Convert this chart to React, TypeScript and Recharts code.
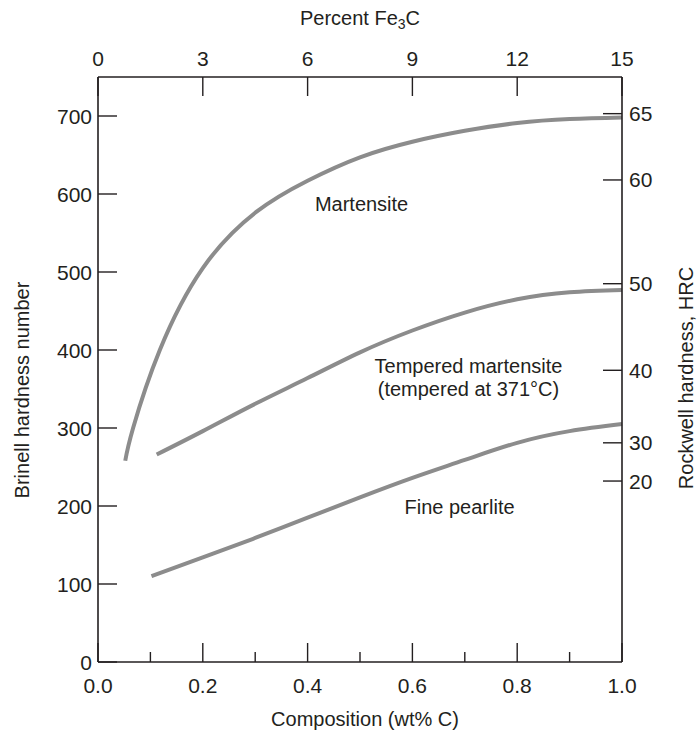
import { LineChart, Line, XAxis, YAxis, ReferenceDot } from 'recharts';

// composition (wt% C) and Brinell hardness
const martensiteC = [0.052, 0.067, 0.118, 0.2, 0.3, 0.4, 0.5, 0.6, 0.7, 0.8, 0.9, 1.0];
const martensiteHB = [258, 300, 400, 505, 576, 617, 647, 667, 681, 691, 696, 698];

const temperedC = [0.112, 0.2, 0.3, 0.4, 0.5, 0.6, 0.7, 0.8, 0.9, 1.0];
const temperedHB = [266, 296, 331, 364, 397, 425, 448, 465, 474, 477];

const pearliteC = [0.102, 0.2, 0.3, 0.4, 0.5, 0.6, 0.7, 0.8, 0.9, 1.0];
const pearliteHB = [110, 134, 159, 185, 211, 236, 259, 281, 296, 305];

// axes
const carbonTicks = [0, 0.1, 0.2, 0.3, 0.4, 0.5, 0.6, 0.7, 0.8, 0.9, 1.0];
const fe3cTicks = [0, 3, 6, 9, 12, 15]; // 15 % Fe3C lines up with 1.0 wt% C
const brinellTicks = [0, 100, 200, 300, 400, 500, 600, 700];
const hrcLabels = [65, 60, 50, 40, 30, 20];
const hrcAtBrinell = [703, 618, 485, 374, 281, 232];

const toPoints = (c: number[], hb: number[]) => c.map((v, i) => ({ c: v, hb: hb[i] }));

const FONT = '"Liberation Sans", Arial, sans-serif';
const INK = '#231f20';
const CURVE = '#8c8c8c';
const TICK = 19;

const textStyle = { fontFamily: FONT, fontSize: 21, fill: INK };

function BottomTick({ x, y, payload }: any) {
  const v = payload.value;
  const major = Math.round(v * 10) % 2 === 0;
  return (
    <g>
      <line x1={x} x2={x} y1={y} y2={y - (major ? TICK : 10)} stroke={INK} strokeWidth={1.4} />
      {major && (
        <text x={x} y={y + 23} textAnchor="middle" dominantBaseline="central" {...textStyle}>
          {v.toFixed(1)}
        </text>
      )}
    </g>
  );
}

function TopTick({ x, y, index }: any) {
  return (
    <g>
      <line x1={x} x2={x} y1={y} y2={y + TICK} stroke={INK} strokeWidth={1.4} />
      <text x={x} y={y - 19} textAnchor="middle" dominantBaseline="central" {...textStyle}>
        {fe3cTicks[index]}
      </text>
    </g>
  );
}

function LeftTick({ x, y, payload }: any) {
  return (
    <g>
      <line x1={x} x2={x + TICK} y1={y} y2={y} stroke={INK} strokeWidth={1.4} />
      <text x={x - 6} y={y} textAnchor="end" dominantBaseline="central" {...textStyle}>
        {payload.value}
      </text>
    </g>
  );
}

function RightTick({ x, y, index }: any) {
  return (
    <g>
      <line x1={x} x2={x - TICK} y1={y} y2={y} stroke={INK} strokeWidth={1.4} />
      <text x={x + 7} y={y} textAnchor="start" dominantBaseline="central" {...textStyle}>
        {hrcLabels[index]}
      </text>
    </g>
  );
}

const curveLabel = (lines: string[]) => ({ viewBox }: any) => {
  const cx = viewBox.x + viewBox.width / 2;
  const cy = viewBox.y + viewBox.height / 2;
  const gap = 23;
  const top = cy - ((lines.length - 1) * gap) / 2;
  return (
    <text textAnchor="middle" dominantBaseline="central" fontFamily={FONT} fontSize={20} fill={INK}>
      {lines.map((l, i) => (
        <tspan key={i} x={cx} y={top + i * gap}>{l}</tspan>
      ))}
    </text>
  );
};

const title = { position: 'absolute' as const, fontFamily: FONT, fontSize: 20, color: INK, whiteSpace: 'nowrap' as const };

const lineProps = { dataKey: 'hb', type: 'natural' as const, stroke: CURVE, strokeWidth: 4, dot: false, isAnimationActive: false };

export default function App() {
  return (
    <div style={{ position: 'absolute', left: 0, top: 0, width: 697, height: 730, background: '#fff' }}>
      <LineChart width={697} height={730} margin={{ top: 37, right: 35, bottom: 28, left: 38 }}>
        <XAxis
          xAxisId="bottom"
          type="number"
          dataKey="c"
          domain={[0, 1]}
          ticks={carbonTicks}
          interval={0}
          height={40}
          tickSize={0}
          tickMargin={0}
          axisLine={{ stroke: INK, strokeWidth: 1.6 }}
          tickLine={false}
          tick={<BottomTick />}
        />
        <XAxis
          xAxisId="top"
          orientation="top"
          type="number"
          dataKey="c"
          domain={[0, 1]}
          ticks={fe3cTicks.map((p) => p / 15)}
          interval={0}
          height={40}
          tickSize={0}
          tickMargin={0}
          axisLine={{ stroke: INK, strokeWidth: 1.6 }}
          tickLine={false}
          tick={<TopTick />}
        />
        <YAxis
          yAxisId="left"
          type="number"
          domain={[0, 750]}
          ticks={brinellTicks}
          interval={0}
          width={60}
          tickSize={0}
          tickMargin={0}
          axisLine={{ stroke: INK, strokeWidth: 1.6 }}
          tickLine={false}
          tick={<LeftTick />}
        />
        <YAxis
          yAxisId="right"
          orientation="right"
          type="number"
          domain={[0, 750]}
          allowDataOverflow
          ticks={hrcAtBrinell}
          interval={0}
          width={40}
          tickSize={0}
          tickMargin={0}
          axisLine={{ stroke: INK, strokeWidth: 1.6 }}
          tickLine={false}
          tick={<RightTick />}
        />
        <Line xAxisId="bottom" yAxisId="left" data={toPoints(martensiteC, martensiteHB)} {...lineProps} />
        <Line xAxisId="bottom" yAxisId="left" data={toPoints(temperedC, temperedHB)} {...lineProps} />
        <Line xAxisId="top" yAxisId="left" data={toPoints(pearliteC, pearliteHB)} {...lineProps} />
        <ReferenceDot xAxisId="bottom" yAxisId="left" x={0.503} y={587} r={1} fill="none" stroke="none" label={curveLabel(['Martensite'])} />
        <ReferenceDot xAxisId="bottom" yAxisId="left" x={0.707} y={365} r={1} fill="none" stroke="none" label={curveLabel(['Tempered martensite', '(tempered at 371°C)'])} />
        <ReferenceDot xAxisId="bottom" yAxisId="left" x={0.69} y={199} r={1} fill="none" stroke="none" label={curveLabel(['Fine pearlite'])} />
      </LineChart>
      <div style={{ ...title, left: 360, top: 19, transform: 'translate(-50%, -50%)' }}>
        Percent Fe<sub style={{ fontSize: 14, verticalAlign: -4 }}>3</sub>C
      </div>
      <div style={{ ...title, left: 365, top: 719, transform: 'translate(-50%, -50%)' }}>
        Composition (wt% C)
      </div>
      <div style={{ ...title, left: 22, top: 390, transform: 'translate(-50%, -50%) rotate(-90deg)' }}>
        Brinell hardness number
      </div>
      <div style={{ ...title, left: 686, top: 378, transform: 'translate(-50%, -50%) rotate(-90deg)' }}>
        Rockwell hardness, HRC
      </div>
    </div>
  );
}
